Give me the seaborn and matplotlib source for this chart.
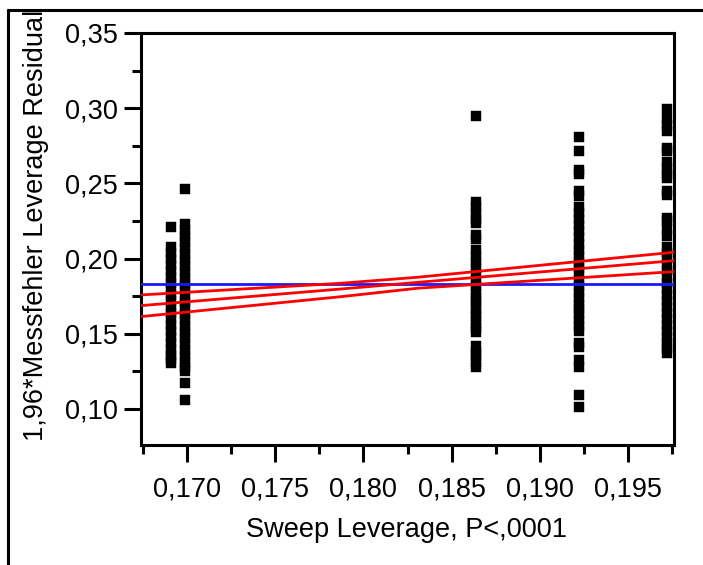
import matplotlib
matplotlib.use("Agg")
import matplotlib.pyplot as plt
import matplotlib.ticker as mticker
from matplotlib.lines import Line2D
import seaborn as sns
import pandas as pd

# ---- data ----
x_groups = [0.1691, 0.1699, 0.1864, 0.1922, 0.1972]

y_g1 = [0.2207, 0.2075, 0.2040, 0.2000, 0.1960, 0.1920, 0.1880, 0.1840, 0.1800,
        0.1760, 0.1720, 0.1680, 0.1640, 0.1600, 0.1560, 0.1520, 0.1480, 0.1440,
        0.1400, 0.1360, 0.1330, 0.1308]
y_g2 = [0.2460, 0.2230, 0.2190, 0.2150, 0.2110, 0.2070, 0.2030, 0.1990, 0.1950,
        0.1910, 0.1870, 0.1830, 0.1790, 0.1750, 0.1710, 0.1670, 0.1630, 0.1590,
        0.1550, 0.1510, 0.1470, 0.1430, 0.1390, 0.1350, 0.1310, 0.1280, 0.1253,
        0.1170, 0.1062]
y_g3 = [0.2946, 0.2374, 0.2340, 0.2300, 0.2265, 0.2239, 0.2157, 0.2132, 0.2059,
        0.2020, 0.1980, 0.1940, 0.1900, 0.1860, 0.1820, 0.1780, 0.1740, 0.1710,
        0.1670, 0.1640, 0.1610, 0.1570, 0.1540, 0.1510, 0.1417, 0.1380, 0.1350,
        0.1315, 0.1282]
y_g4 = [0.2807, 0.2715, 0.2590, 0.2561, 0.2447, 0.2417, 0.2340, 0.2300, 0.2260,
        0.2220, 0.2180, 0.2140, 0.2100, 0.2060, 0.2020, 0.1980, 0.1940, 0.1900,
        0.1860, 0.1820, 0.1780, 0.1740, 0.1700, 0.1664, 0.1630, 0.1590, 0.1550,
        0.1520, 0.1440, 0.1410, 0.1325, 0.1280, 0.1095, 0.1016]
y_g5 = [0.2997, 0.2930, 0.2890, 0.2845, 0.2735, 0.2715, 0.2640, 0.2600, 0.2560,
        0.2535, 0.2447, 0.2425, 0.2270, 0.2248, 0.2196, 0.2150, 0.2075, 0.2040,
        0.2000, 0.1960, 0.1920, 0.1880, 0.1840, 0.1800, 0.1760, 0.1720, 0.1680,
        0.1640, 0.1600, 0.1560, 0.1520, 0.1480, 0.1440, 0.1405, 0.1375]

mean_y = 0.1829

fit_x = [0.1674, 0.17877, 0.1831, 0.1976]
fit_mid = [0.1687, 0.1798, 0.1842, 0.1986]
fit_upper = [0.1758, 0.1836, 0.1876, 0.2042]
fit_lower = [0.1614, 0.1747, 0.1803, 0.1913]

x_ticks = [0.170, 0.175, 0.180, 0.185, 0.190, 0.195]
y_ticks = [0.10, 0.15, 0.20, 0.25, 0.30, 0.35]
x_label = "Sweep Leverage, P<,0001"
y_label = "1,96*Messfehler Leverage Residual"

# ---- build frame ----
groups = [y_g1, y_g2, y_g3, y_g4, y_g5]
rows = []
for xv, ys in zip(x_groups, groups):
    for yv in ys:
        rows.append((xv, yv))
df = pd.DataFrame(rows, columns=["x", "y"])

sns.set_theme(style="white")
plt.rcParams['font.family'] = ['Liberation Sans', 'DejaVu Sans']

FS = 19.5
fig = plt.figure(figsize=(7.03, 5.65), dpi=100)
ax = fig.add_axes([141 / 703, 1 - 445 / 565, (674 - 141) / 703, (445 - 33) / 565])

sns.scatterplot(data=df, x="x", y="y", ax=ax, marker="s", s=42, color="black",
                edgecolor="black", linewidth=0.3, zorder=2)

ax.plot([0.1674, 0.1976], [mean_y, mean_y], color="#1a1aff", lw=2.0, zorder=3)
for ys in (fit_upper, fit_mid, fit_lower):
    ax.plot(fit_x, ys, color="#ff0000", lw=2.0, zorder=3)

ax.set_xlim(0.1674, 0.1976)
ax.set_ylim(0.076, 0.35)
ax.set_xticks(x_ticks)
ax.set_yticks(y_ticks)
ax.xaxis.set_minor_locator(mticker.MultipleLocator(0.0025))
ax.yaxis.set_minor_locator(mticker.MultipleLocator(0.025))
ax.set_xticklabels([f"{v:.3f}".replace(".", ",") for v in x_ticks])
ax.set_yticklabels([f"{v:.2f}".replace(".", ",") for v in y_ticks])
ax.tick_params(axis="both", which="major", direction="out", length=12.5, width=2.2,
               color="black", labelsize=FS, labelcolor="black", pad=4)
ax.tick_params(axis="x", which="major", pad=10)
ax.tick_params(axis="both", which="minor", direction="out", length=6.5, width=2.2,
               color="black")
ax.tick_params(axis="x", which="both", bottom=True)
ax.tick_params(axis="y", which="both", left=True)
for side in ["left", "right", "top", "bottom"]:
    ax.spines[side].set_visible(True)
    ax.spines[side].set_linewidth(2.2)
    ax.spines[side].set_color("black")
ax.set_xlabel("")
ax.set_ylabel("")
ax.grid(False)

fig.text(407 / 703, 1 - 530 / 565, x_label, ha="center", va="center", fontsize=FS,
         color="black")
fig.text(36 / 703, 1 - 225 / 565, y_label, ha="center", va="center", rotation=90,
         fontsize=FS, color="black")

# outer frame (top and left edges)
fig.add_artist(Line2D([8 / 703, 1.0], [1 - 10 / 565, 1 - 10 / 565], color="black",
                      lw=2.2, transform=fig.transFigure))
fig.add_artist(Line2D([8 / 703, 8 / 703], [0.0, 1 - 10 / 565], color="black",
                      lw=2.2, transform=fig.transFigure))

fig.savefig("out.png", dpi=100)
